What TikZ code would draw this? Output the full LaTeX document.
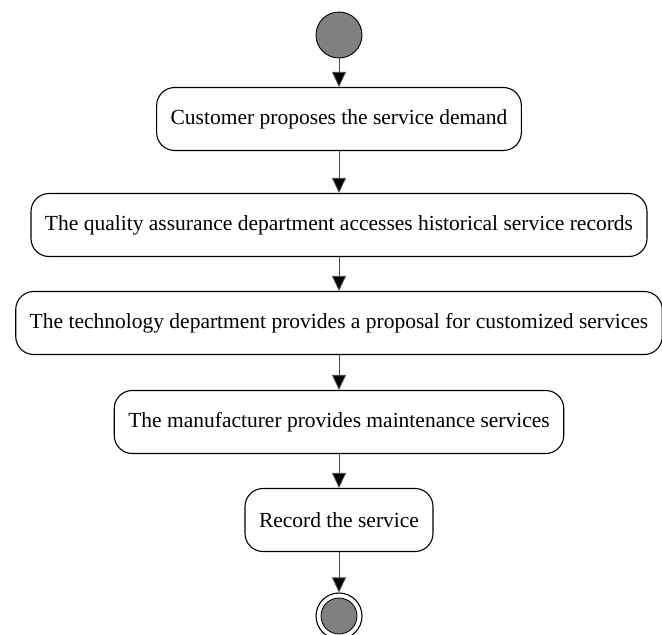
\documentclass[tikz,border=0pt]{standalone}
\usepackage{fontspec}
\setmainfont{Liberation Serif}
\usetikzlibrary{arrows.meta,positioning}

\tikzset{
  actbox/.style={draw, line width=1.1pt, rounded corners=18pt, minimum height=63pt,
    inner xsep=14pt, align=center, font=\fontsize{21.5}{25}\selectfont},
  flow/.style={draw=black!70, line width=0.9pt, -{Triangle[width=14pt,length=15pt,fill=black]}},
  startdot/.style={circle, draw, line width=0.9pt, fill=black!50, minimum size=46pt, inner sep=0pt},
  enddot/.style={circle, draw, line width=1.1pt, fill=white, minimum size=46pt, inner sep=0pt}
}

\begin{document}
\begin{tikzpicture}[x=1pt, y=-1pt]
\useasboundingbox (0,0) rectangle (662,635);
\node[startdot] (start) at (339,35) {};
\node[actbox] (demand) at (339,119) {Customer proposes the service demand};
\node[actbox] (records) at (339,225) {The quality assurance department accesses historical service records};
\node[actbox] (proposal) at (339,323) {The technology department provides a proposal for customized services};
\node[actbox] (maint) at (339,422) {The manufacturer provides maintenance services};
\node[actbox] (record) at (339,520) {Record the service};
\node[enddot] (stop) at (339,616) {};
\fill[black!50, draw=black, line width=0.8pt] (stop) circle (18pt);
% connectors
\draw[flow] (start) -- (demand);
\draw[flow] (demand) -- (records);
\draw[flow] (records) -- (proposal);
\draw[flow] (proposal) -- (maint);
\draw[flow] (maint) -- (record);
\draw[flow] (record) -- (stop);
\end{tikzpicture}
\end{document}
